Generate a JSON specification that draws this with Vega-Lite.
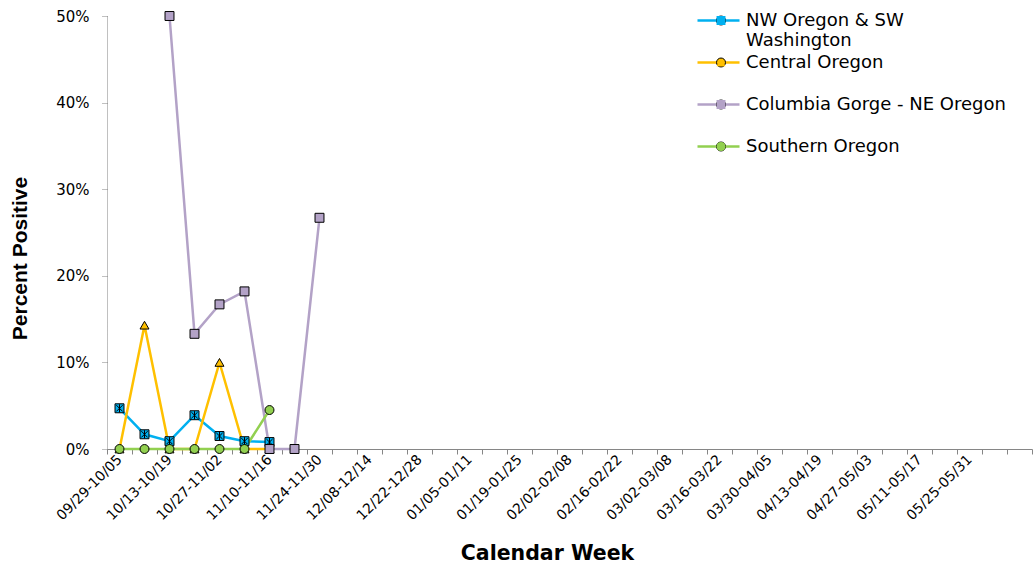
{
  "$schema": "https://vega.github.io/schema/vega-lite/v6.json",
  "width": 925,
  "height": 433,
  "autosize": "none",
  "padding": {"left": 107, "top": 16, "right": 2, "bottom": 114},
  "background": "white",
  "config": {"view": {"stroke": null}, "legend": {"symbolBaseFillColor": {"expr": "scale('color', datum.value)"}}},
  "data": {
    "values": [
      {"series": "NW Oregon & SW Washington", "week": "09/29-10/05", "pct": 0.047},
      {"series": "NW Oregon & SW Washington", "week": "10/06-10/12", "pct": 0.017},
      {"series": "NW Oregon & SW Washington", "week": "10/13-10/19", "pct": 0.009},
      {"series": "NW Oregon & SW Washington", "week": "10/20-10/26", "pct": 0.039},
      {"series": "NW Oregon & SW Washington", "week": "10/27-11/02", "pct": 0.015},
      {"series": "NW Oregon & SW Washington", "week": "11/03-11/09", "pct": 0.009},
      {"series": "NW Oregon & SW Washington", "week": "11/10-11/16", "pct": 0.008},
      {"series": "Central Oregon", "week": "09/29-10/05", "pct": 0},
      {"series": "Central Oregon", "week": "10/06-10/12", "pct": 0.143},
      {"series": "Central Oregon", "week": "10/13-10/19", "pct": 0},
      {"series": "Central Oregon", "week": "10/20-10/26", "pct": 0},
      {"series": "Central Oregon", "week": "10/27-11/02", "pct": 0.1},
      {"series": "Central Oregon", "week": "11/03-11/09", "pct": 0},
      {"series": "Central Oregon", "week": "11/10-11/16", "pct": 0},
      {"series": "Columbia Gorge - NE Oregon", "week": "10/13-10/19", "pct": 0.5},
      {"series": "Columbia Gorge - NE Oregon", "week": "10/20-10/26", "pct": 0.133},
      {"series": "Columbia Gorge - NE Oregon", "week": "10/27-11/02", "pct": 0.167},
      {"series": "Columbia Gorge - NE Oregon", "week": "11/03-11/09", "pct": 0.182},
      {"series": "Columbia Gorge - NE Oregon", "week": "11/10-11/16", "pct": 0},
      {"series": "Columbia Gorge - NE Oregon", "week": "11/17-11/23", "pct": 0},
      {"series": "Columbia Gorge - NE Oregon", "week": "11/24-11/30", "pct": 0.267},
      {"series": "Southern Oregon", "week": "09/29-10/05", "pct": 0},
      {"series": "Southern Oregon", "week": "10/06-10/12", "pct": 0},
      {"series": "Southern Oregon", "week": "10/13-10/19", "pct": 0},
      {"series": "Southern Oregon", "week": "10/20-10/26", "pct": 0},
      {"series": "Southern Oregon", "week": "10/27-11/02", "pct": 0},
      {"series": "Southern Oregon", "week": "11/03-11/09", "pct": 0},
      {"series": "Southern Oregon", "week": "11/10-11/16", "pct": 0.045}
    ]
  },
  "encoding": {
    "x": {
      "field": "week",
      "type": "ordinal",
      "sort": null,
      "scale": {
        "domain": ["09/29-10/05","10/06-10/12","10/13-10/19","10/20-10/26","10/27-11/02","11/03-11/09","11/10-11/16","11/17-11/23","11/24-11/30","12/01-12/07","12/08-12/14","12/15-12/21","12/22-12/28","12/29-01/04","01/05-01/11","01/12-01/18","01/19-01/25","01/26-02/01","02/02-02/08","02/09-02/15","02/16-02/22","02/23-03/01","03/02-03/08","03/09-03/15","03/16-03/22","03/23-03/29","03/30-04/05","04/06-04/12","04/13-04/19","04/20-04/26","04/27-05/03","05/04-05/10","05/11-05/17","05/18-05/24","05/25-05/31","06/01-06/07","06/08-06/14"],
        "paddingInner": 0,
        "paddingOuter": 0
      },
      "axis": {
        "title": "Calendar Week",
        "labelAngle": -45,
        "labelAlign": "right",
        "labelBaseline": "middle",
        "labelFont": "DejaVu Sans",
        "labelFontSize": 14,
        "labelColor": "#000000",
        "labelPadding": 3,
        "labelOverlap": false,
        "labelBound": false,
        "labelExpr": "indexof(domain('x'), datum.value) % 2 == 0 && indexof(domain('x'), datum.value) <= 34 ? datum.label : ''",
        "tickBand": "extent",
        "tickSize": 5,
        "tickColor": "#868686",
        "domainColor": "#868686",
        "grid": false,
        "titleFont": "DejaVu Sans",
        "titleFontSize": 20.5,
        "titleFontWeight": "bold",
        "titleColor": "#000000",
        "titleX": 440,
        "titleY": 104,
        "titleAlign": "center",
        "titleBaseline": "middle"
      }
    },
    "y": {
      "field": "pct",
      "type": "quantitative",
      "scale": {"domain": [0, 0.5], "nice": false},
      "axis": {
        "format": ".0%",
        "values": [0, 0.1, 0.2, 0.3, 0.4, 0.5],
        "grid": false,
        "domainColor": "#808080",
        "domainDash": [1, 1],
        "tickColor": "#808080",
        "tickDash": [1, 1],
        "tickSize": 5,
        "labelFont": "DejaVu Sans",
        "labelFontSize": 15,
        "labelColor": "#000000",
        "labelPadding": 13,
        "title": "Percent Positive",
        "titleFont": "Liberation Sans",
        "titleFontSize": 21,
        "titleFontWeight": "bold",
        "titleColor": "#000000",
        "titleX": -87,
        "titleY": 242,
        "titleAngle": -90,
        "titleAlign": "center",
        "titleBaseline": "middle"
      }
    }
  },
  "layer": [
    {
      "mark": {"type": "line", "strokeWidth": 2.5},
      "encoding": {
        "stroke": {
          "field": "series",
          "type": "nominal",
          "scale": {
            "domain": ["NW Oregon & SW Washington", "Central Oregon", "Columbia Gorge - NE Oregon", "Southern Oregon"],
            "range": ["#00B0F0", "#FFC000", "#B3A2C7", "#92D050"]
          },
          "legend": {
            "orient": "none",
            "legendX": 589,
            "legendY": -4,
            "title": null,
            "padding": 0,
            "symbolType": "stroke",
            "symbolSize": 1764,
            "symbolStrokeWidth": 2.5,
            "clipHeight": 17,
            "labelFont": "DejaVu Sans",
            "labelFontSize": 18,
            "labelColor": "#000000",
            "labelOffset": 5,
            "labelLimit": 400,
            "rowPadding": 3,
            "labelExpr": "datum.label == 'NW Oregon & SW Washington' ? ['NW Oregon & SW', 'Washington'] : [datum.label, ' ']"
          }
        }
      }
    },
    {
      "mark": {"type": "point", "filled": true, "opacity": 1, "stroke": "#000000", "strokeWidth": 1, "size": 80},
      "encoding": {
        "color": {
          "field": "series",
          "type": "nominal",
          "sort": ["NW Oregon & SW Washington", "Central Oregon", "Columbia Gorge - NE Oregon", "Southern Oregon"],
          "scale": {"range": ["#00B0F0", "#FFC000", "#B3A2C7", "#92D050"]},
          "legend": {
            "orient": "none",
            "legendX": 605,
            "legendY": -4,
            "title": null,
            "padding": 0,
            "symbolSize": 80,
            "symbolStrokeColor": "#000000",
            "symbolStrokeWidth": 1,
            "symbolOpacity": 1,
            "clipHeight": 17,
            "labelFont": "DejaVu Sans",
            "labelFontSize": 18,
            "labelOpacity": 0,
            "labelLimit": 400,
            "rowPadding": 3,
            "labelExpr": "datum.label == 'NW Oregon & SW Washington' ? ['NW Oregon & SW', 'Washington'] : [datum.label, ' ']"
          }
        },
        "shape": {
          "field": "series",
          "type": "nominal",
          "sort": ["NW Oregon & SW Washington", "Central Oregon", "Columbia Gorge - NE Oregon", "Southern Oregon"],
          "scale": {"range": ["M-1,-1L1,-1L1,1L-1,1Z M0,-0.9L0,0.9 M-0.7,-0.7L0.7,0.7 M-0.7,0.7L0.7,-0.7", "triangle-up", "square", "circle"]},
          "legend": {
            "orient": "none",
            "legendX": 605,
            "legendY": -4,
            "title": null,
            "padding": 0,
            "symbolSize": 80,
            "symbolStrokeColor": "#000000",
            "symbolStrokeWidth": 1,
            "symbolOpacity": 1,
            "clipHeight": 17,
            "labelFont": "DejaVu Sans",
            "labelFontSize": 18,
            "labelOpacity": 0,
            "labelLimit": 400,
            "rowPadding": 3,
            "labelExpr": "datum.label == 'NW Oregon & SW Washington' ? ['NW Oregon & SW', 'Washington'] : [datum.label, ' ']"
          }
        }
      }
    }
  ]
}
